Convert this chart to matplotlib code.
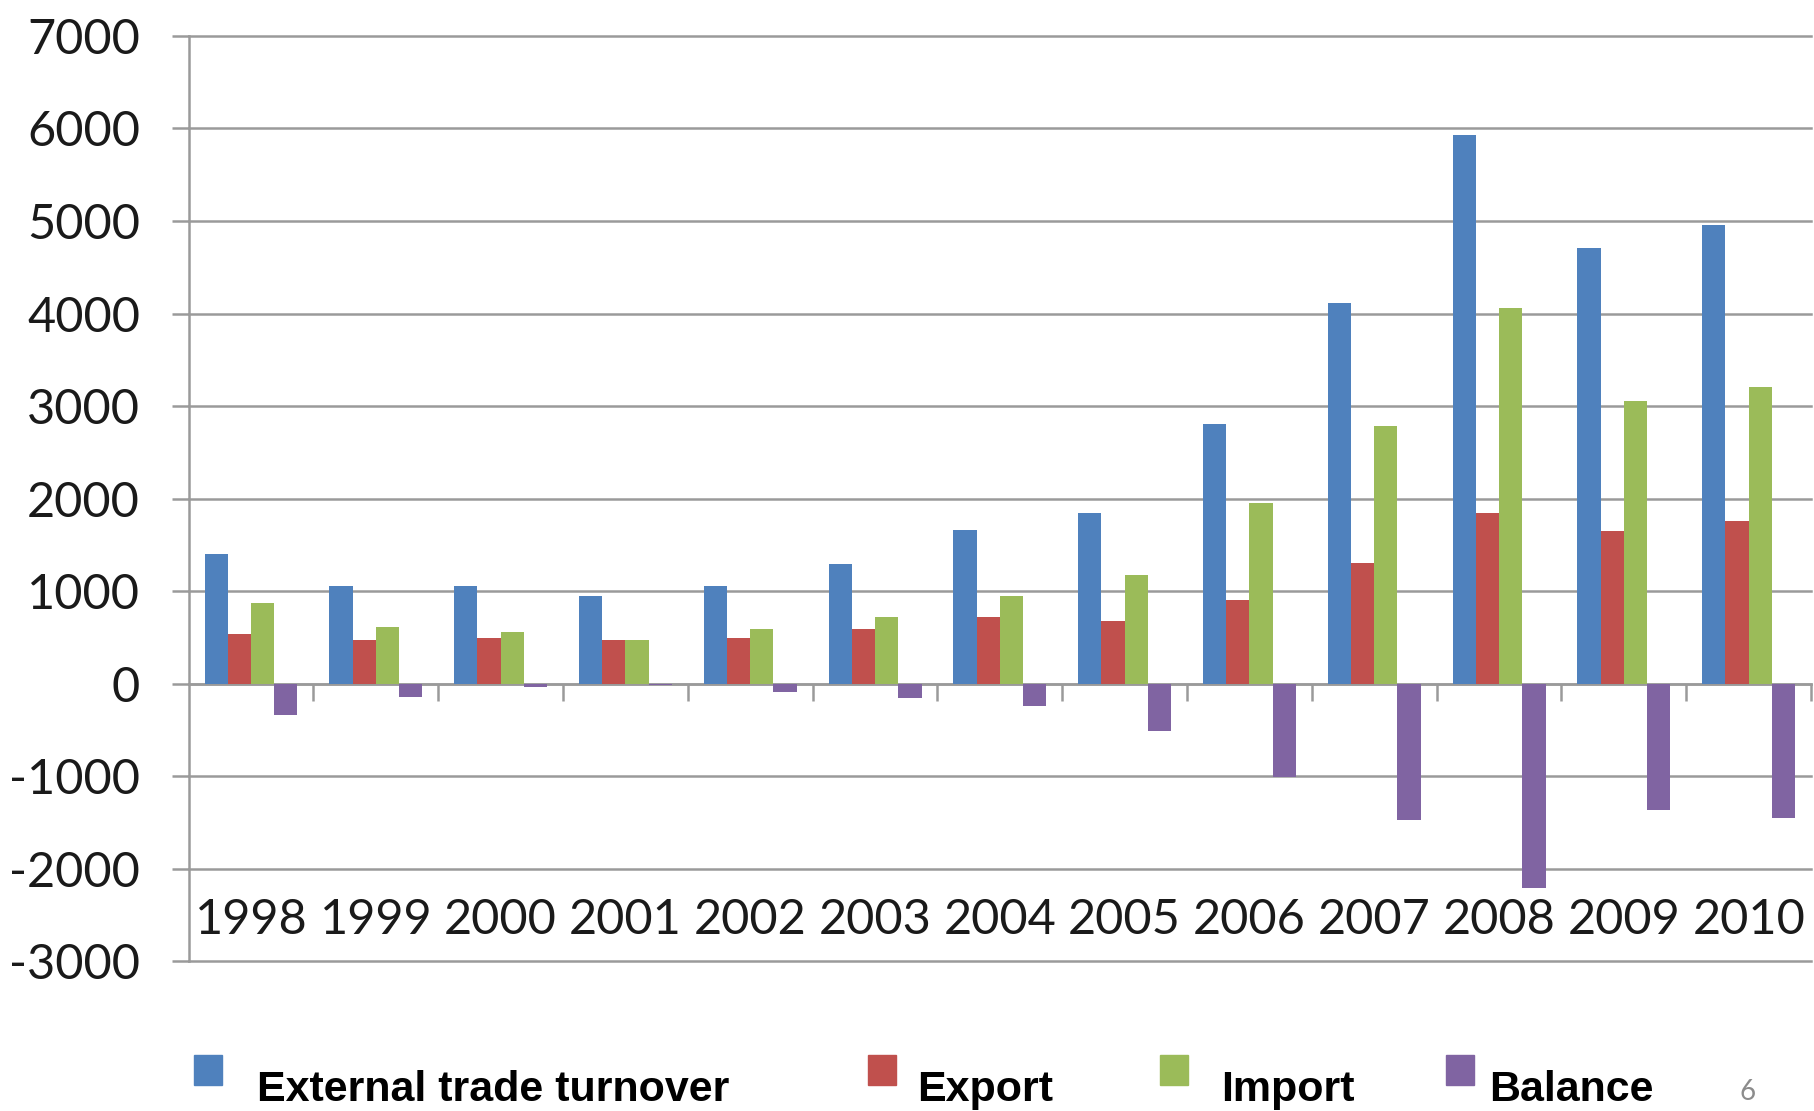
import numpy as np
import matplotlib.pyplot as plt
from matplotlib.patches import Rectangle
plt.rcParams['axes.unicode_minus'] = False

years = ['1998', '1999', '2000', '2001', '2002', '2003', '2004',
         '2005', '2006', '2007', '2008', '2009', '2010']
turnover = [1400, 1060, 1060, 950, 1060, 1290, 1660, 1850, 2810, 4110, 5925, 4710, 4960]
export = [540, 475, 500, 475, 500, 590, 725, 675, 900, 1310, 1850, 1650, 1760]
import_ = [875, 610, 560, 475, 590, 725, 950, 1175, 1950, 2790, 4060, 3050, 3210]
balance = [-340, -140, -40, -10, -90, -150, -240, -510, -1010, -1475, -2210, -1360, -1450]

series_names = ['External trade turnover', 'Export', 'Import', 'Balance']
colors = ['#4F81BD', '#C0504D', '#9BBB59', '#8064A2']

grid_col = '#9a9a9a'

fig = plt.figure(figsize=(18.14, 11.11), dpi=100)
ax = fig.add_axes([0.104, 0.1346, 0.8944, 0.8331])

x = np.arange(len(years))
w = 0.186
for i, vals in enumerate([turnover, export, import_, balance]):
    ax.bar(x + (i - 1.5) * w, vals, width=w, color=colors[i], zorder=3)

ax.set_xlim(-0.5, len(years) - 0.5)
ax.set_ylim(-3000, 7000)
ax.set_yticks(np.arange(-3000, 7001, 1000))
ax.yaxis.grid(True, color=grid_col, linewidth=1.8)
for gl in ax.get_ygridlines():
    gl.set_clip_on(False)
ax.set_axisbelow(True)

for s in ['top', 'right']:
    ax.spines[s].set_visible(False)
ax.spines['left'].set_color(grid_col)
ax.spines['left'].set_linewidth(1.8)
ax.spines['bottom'].set_position(('data', 0))
ax.spines['bottom'].set_color(grid_col)
ax.spines['bottom'].set_linewidth(1.8)

# category boundary ticks hang below the zero line
ax.set_xticks(np.arange(0.5, len(years), 1.0))
ax.set_xticklabels([])
ax.tick_params(axis='x', direction='out', length=12, width=1.8, color=grid_col)
ax.tick_params(axis='y', direction='out', length=12, width=1.8, color=grid_col,
               pad=23, labelsize=35)
for lab in ax.get_yticklabels():
    lab.set_family('Lato')
    lab.set_color('#1a1a1a')

for xi, yr in zip(x, years):
    ax.text(xi, -2550, yr, ha='center', va='center', fontsize=35,
            family='Lato', color='#1a1a1a')

# legend drawn along the bottom
sq_x = [194, 868, 1160, 1446]
txt_x = [257, 917, 1221, 1489]
for i in range(4):
    fig.patches.append(Rectangle((sq_x[i] / 1814, 1 - 1085 / 1111), 28 / 1814, 30 / 1111,
                                 transform=fig.transFigure, color=colors[i]))
    fig.text(txt_x[i] / 1814, 1 - 1090 / 1111, series_names[i], ha='left', va='center',
             fontsize=31, fontweight='bold', family='Liberation Sans')

fig.text(1748 / 1814, 1 - 1092 / 1111, '6', ha='center', va='center',
         fontsize=20, color='#8c8c8c', family='Lato')

fig.savefig('out.png', dpi=100)
